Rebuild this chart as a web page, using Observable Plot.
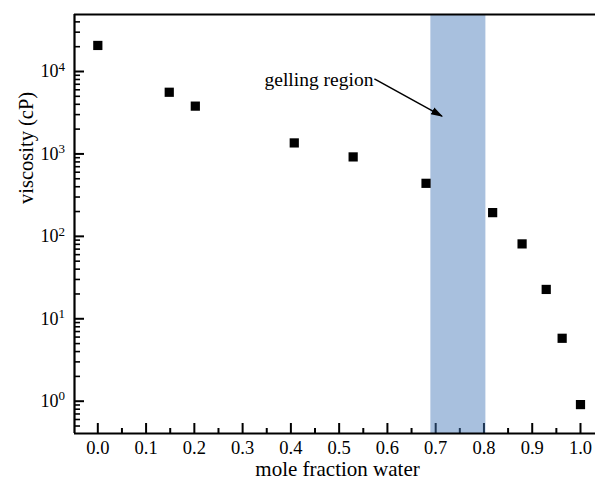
<!DOCTYPE html>
<html>
<head>
<meta charset="utf-8">
<script src="https://cdn.jsdelivr.net/npm/d3@7"></script>
<script src="https://cdn.jsdelivr.net/npm/@observablehq/plot@0.6"></script>
<style>
  html, body { margin: 0; padding: 0; background: #fff; }
  svg { display: block; }
</style>
</head>
<body>
<div id="chart"></div>
<script>
// ---- data ----
const moleFraction = [0.0, 0.148, 0.202, 0.407, 0.529, 0.680, 0.818, 0.879, 0.929, 0.962, 1.0];
const viscosity    = [20700, 5600, 3800, 1360, 920, 440, 194, 81, 22.7, 5.8, 0.91];

const xTicks      = [0.0, 0.1, 0.2, 0.3, 0.4, 0.5, 0.6, 0.7, 0.8, 0.9, 1.0];
const xTickLabels = ["0.0", "0.1", "0.2", "0.3", "0.4", "0.5", "0.6", "0.7", "0.8", "0.9", "1.0"];
const xMinorTicks = [0.05, 0.15, 0.25, 0.35, 0.45, 0.55, 0.65, 0.75, 0.85, 0.95];

const yTicks          = [1, 10, 100, 1000, 10000];
const yTickBase       = ["10", "10", "10", "10", "10"];
const yTickExponents  = ["0", "1", "2", "3", "4"];

const gellingStart = [0.690];
const gellingEnd   = [0.804];

const annotationText = ["gelling region"];
const arrowFromX = [0.573], arrowFromY = [8150];
const arrowToX   = [0.713], arrowToY   = [2870];

const xLabel = "mole fraction water";
const yLabel = "viscosity (cP)";

// ---- scales ----
const xDomain = [-0.0483, 1.0311];
const yDomain = [0.4057, 49150];

const W = 595, H = 482;
const mL = 74, mR = 0, mT = 14, mB = 49;
const frameW = W - mL - mR, frameH = H - mT - mB;
const majorLen = 10, minorLen = 6, xMinorLen = 5;

const yMinorTicks = d3.scaleLog().domain(yDomain).ticks()
  .filter(v => !yTicks.includes(v) && v >= yDomain[0] && v <= yDomain[1]);

const font = "'Liberation Serif', 'Times New Roman', Times, serif";

// filled triangular arrow head as a custom Plot marker
function filledHead(color) {
  const ns = "http://www.w3.org/2000/svg";
  const m = document.createElementNS(ns, "marker");
  m.setAttribute("viewBox", "-5 -5 10 10");
  m.setAttribute("markerUnits", "userSpaceOnUse");
  m.setAttribute("markerWidth", "12");
  m.setAttribute("markerHeight", "12");
  m.setAttribute("refX", "4");
  m.setAttribute("refY", "0");
  m.setAttribute("orient", "auto");
  const p = document.createElementNS(ns, "path");
  p.setAttribute("d", "M-5,-3.2L5,0L-5,3.2Z");
  p.setAttribute("fill", color);
  p.setAttribute("stroke", "none");
  m.appendChild(p);
  return m;
}

const chart = Plot.plot({
  width: W,
  height: H,
  marginLeft: mL,
  marginRight: mR,
  marginTop: mT,
  marginBottom: mB,
  style: { fontFamily: font, fontSize: "18px", color: "black", background: "white", overflow: "visible" },
  x: { domain: xDomain, axis: null },
  y: { type: "log", domain: yDomain, axis: null },
  marks: [
    // inward ticks
    Plot.tickX(xTicks, { x: d => d, insetTop: frameH - majorLen, stroke: "black", strokeWidth: 2 }),
    Plot.tickX(xMinorTicks, { x: d => d, insetTop: frameH - xMinorLen, stroke: "black", strokeWidth: 2 }),
    Plot.tickY(yTicks, { y: d => d, insetRight: frameW - majorLen, stroke: "black", strokeWidth: 2 }),
    Plot.tickY(yMinorTicks, { y: d => d, insetRight: frameW - minorLen, stroke: "black", strokeWidth: 1.6 }),
    // gelling region band
    Plot.rect(gellingStart, { x1: gellingStart, x2: gellingEnd, fill: "#4175b7", fillOpacity: 0.46 }),
    // frame lines (left, bottom, top)
    Plot.ruleX([xDomain[0]], { stroke: "black", strokeWidth: 2.2 }),
    Plot.ruleY([yDomain[0]], { stroke: "black", strokeWidth: 2.2 }),
    Plot.ruleY([yDomain[1]], { stroke: "black", strokeWidth: 2.2 }),
    // data
    Plot.dot(moleFraction, { x: moleFraction, y: viscosity, symbol: "square", r: 5.2, fill: "black", stroke: "none" }),
    // annotation
    Plot.link(annotationText, {
      x1: arrowFromX, y1: arrowFromY, x2: arrowToX, y2: arrowToY,
      stroke: "black", strokeWidth: 1.5, markerEnd: filledHead
    }),
    Plot.text(annotationText, {
      x: arrowFromX, y: arrowFromY, text: d => d, textAnchor: "end", dx: -1, dy: 1,
      fontSize: 19.5
    }),
    // x tick labels
    Plot.text(xTicks, { x: d => d, frameAnchor: "bottom", text: xTickLabels, lineAnchor: "top", dy: 7, fontSize: 18.5 }),
    // y tick labels: "10" + superscript exponent
    Plot.text(yTicks, { y: d => d, frameAnchor: "left", text: yTickBase, textAnchor: "end", dx: -16, fontSize: 18 }),
    Plot.text(yTicks, { y: d => d, frameAnchor: "left", text: yTickExponents, textAnchor: "start", dx: -16, dy: -5, fontSize: 13 }),
    // axis titles
    Plot.text([xLabel], { frameAnchor: "bottom", text: d => d, lineAnchor: "middle", dy: 36, dx: 2.5, fontSize: 21 }),
    Plot.text([yLabel], { frameAnchor: "left", text: d => d, rotate: -90, lineAnchor: "middle", dx: -48, dy: -20, fontSize: 20.5 })
  ]
});

document.getElementById("chart").appendChild(chart);
</script>
</body>
</html>
